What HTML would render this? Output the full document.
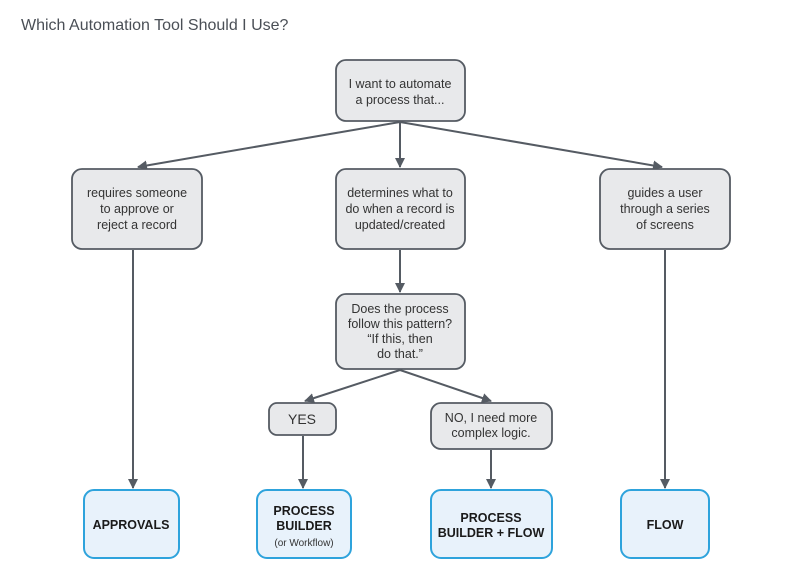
<!DOCTYPE html>
<html><head><meta charset="utf-8"><style>
html,body{margin:0;padding:0;background:#fff;}
svg{display:block;}
text{font-family:"Liberation Sans",sans-serif;}
</style></head><body>
<svg width="802" height="579" viewBox="0 0 802 579" xmlns="http://www.w3.org/2000/svg">
<defs>
<marker id="a" markerWidth="10" markerHeight="10" refX="9" refY="5" orient="auto" markerUnits="userSpaceOnUse">
<path d="M0,0 L10,5 L0,10 Z" fill="#555b63"/>
</marker>
</defs>
<text x="21" y="30" font-size="16" fill="#4a4f56">Which Automation Tool Should I Use?</text>
<g stroke="#555b63" stroke-width="2" fill="none" marker-end="url(#a)">
<line x1="400" y1="122" x2="138" y2="167"/>
<line x1="400" y1="122" x2="400" y2="167"/>
<line x1="400" y1="122" x2="662" y2="167"/>
<line x1="133" y1="250" x2="133" y2="488"/>
<line x1="400" y1="250" x2="400" y2="292"/>
<line x1="400" y1="370" x2="305" y2="401"/>
<line x1="400" y1="370" x2="491" y2="401"/>
<line x1="303" y1="436" x2="303" y2="488"/>
<line x1="491" y1="450" x2="491" y2="488"/>
<line x1="665" y1="250" x2="665" y2="488"/>
</g>
<g fill="#e8e9eb" stroke="#555b63" stroke-width="1.8">
<rect x="336" y="60" width="129" height="61" rx="10"/>
<rect x="72" y="169" width="130" height="80" rx="10"/>
<rect x="336" y="169" width="129" height="80" rx="10"/>
<rect x="600" y="169" width="130" height="80" rx="10"/>
<rect x="336" y="294" width="129" height="75" rx="10"/>
<rect x="269" y="403" width="67" height="32" rx="8"/>
<rect x="431" y="403" width="121" height="46" rx="10"/>
</g>
<g fill="#e8f2fb" stroke="#2ea3dc" stroke-width="2">
<rect x="84" y="490" width="95" height="68" rx="10"/>
<rect x="257" y="490" width="94" height="68" rx="10"/>
<rect x="431" y="490" width="121" height="68" rx="10"/>
<rect x="621" y="490" width="88" height="68" rx="10"/>
</g>
<g font-size="12.5" fill="#333" text-anchor="middle">
<text x="400" y="88">I want to automate</text>
<text x="400" y="104">a process that...</text>
<text x="137" y="197">requires someone</text>
<text x="137" y="213">to approve or</text>
<text x="137" y="229">reject a record</text>
<text x="400" y="197">determines what to</text>
<text x="400" y="213">do when a record is</text>
<text x="400" y="229">updated/created</text>
<text x="665" y="197">guides a user</text>
<text x="665" y="213">through a series</text>
<text x="665" y="229">of screens</text>
<text x="400" y="313">Does the process</text>
<text x="400" y="328">follow this pattern?</text>
<text x="400" y="343">“If this, then</text>
<text x="400" y="358">do that.”</text>
<text x="302" y="424" font-size="14">YES</text>
<text x="491" y="422">NO, I need more</text>
<text x="491" y="437">complex logic.</text>
</g>
<g font-size="12.5" font-weight="bold" fill="#1a1a1a" text-anchor="middle">
<text x="131" y="529">APPROVALS</text>
<text x="304" y="515">PROCESS</text>
<text x="304" y="530">BUILDER</text>
<text x="491" y="522">PROCESS</text>
<text x="491" y="537">BUILDER + FLOW</text>
<text x="665" y="529">FLOW</text>
</g>
<text x="304" y="546" font-size="10" fill="#333" text-anchor="middle">(or Workflow)</text>
</svg>
</body></html>
